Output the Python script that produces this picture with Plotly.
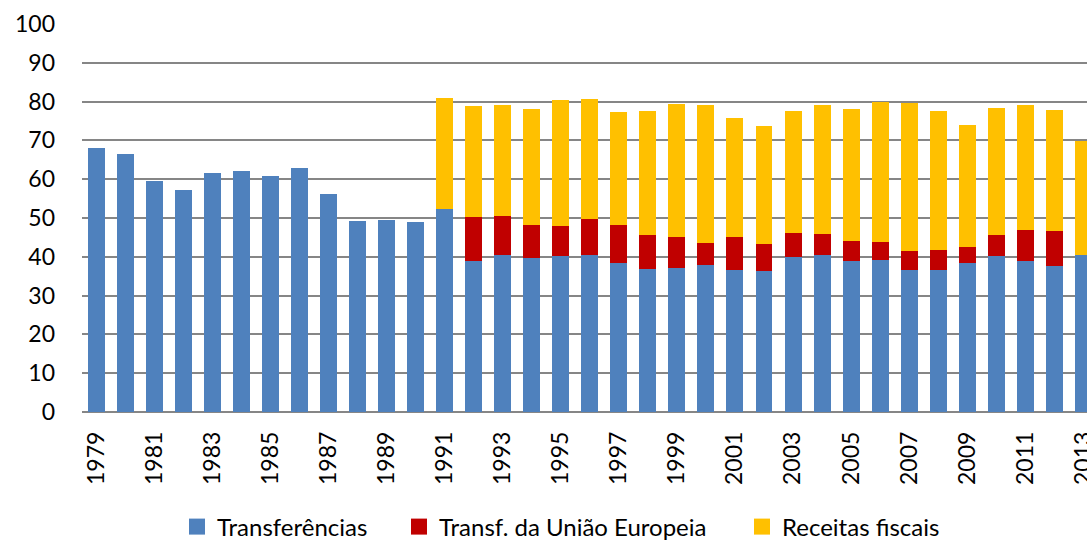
import plotly.graph_objects as go

# Receitas por ano (% do total)
years = list(range(1979, 2014))

transferencias = [
    68.0, 66.4, 59.6, 57.2, 61.7, 62.2, 60.7, 63.0, 56.3, 49.2, 49.6, 49.0,
    52.3, 38.9, 40.4, 39.7, 40.3, 40.4, 38.4, 36.8, 37.0, 37.9, 36.7, 36.3,
    39.9, 40.4, 38.9, 39.1, 36.6, 36.7, 38.4, 40.3, 38.9, 37.6, 40.4,
]
transf_ue = [
    0, 0, 0, 0, 0, 0, 0, 0, 0, 0, 0, 0,
    0.0, 11.4, 10.2, 8.5, 7.6, 9.3, 9.8, 8.7, 8.2, 5.6, 8.5, 7.1,
    6.3, 5.5, 5.3, 4.8, 4.8, 5.0, 4.2, 5.4, 8.1, 9.1, 0.0,
]
receitas_fiscais = [
    0, 0, 0, 0, 0, 0, 0, 0, 0, 0, 0, 0,
    28.7, 28.6, 28.5, 29.8, 32.5, 31.1, 29.0, 32.2, 34.3, 35.5, 30.6, 30.3,
    31.4, 33.3, 33.8, 36.0, 38.3, 35.9, 31.3, 32.6, 32.1, 31.1, 29.5,
]

series_names = ["Transferências", "Transf. da União Europeia", "Receitas fiscais"]
series_colors = ["#4F81BD", "#C00000", "#FFC000"]
series_values = [transferencias, transf_ue, receitas_fiscais]

W, H = 1087, 542
FONT = "Lato, 'Open Sans', sans-serif"

fig = go.Figure()

for name, color, vals in zip(series_names, series_colors, series_values):
    fig.add_trace(go.Bar(
        x=years, y=vals, name=name,
        marker=dict(color=color, line=dict(width=0)),
        showlegend=False,
    ))

# legend entries with larger square swatches, one legend per entry
legend_centers = [197, 419, 762]
for i, (name, color) in enumerate(zip(series_names, series_colors)):
    key = "legend" if i == 0 else f"legend{i + 1}"
    fig.add_trace(go.Scatter(
        x=[None], y=[None], mode="markers", name=name,
        marker=dict(symbol="square", size=16, color=color),
        legend=key, showlegend=True,
    ))
    fig.update_layout({key: dict(
        x=(legend_centers[i] - 20) / W, xref="container", xanchor="left",
        y=1 - 527 / H, yref="container", yanchor="middle",
        orientation="h", bgcolor="rgba(0,0,0,0)",
        font=dict(family=FONT, size=24, color="#000000"),
        itemclick=False, itemdoubleclick=False,
    )})

fig.update_layout(
    width=W, height=H,
    margin=dict(l=82, r=0, t=24, b=130, pad=0, autoexpand=False),
    paper_bgcolor="white", plot_bgcolor="white",
    barmode="stack", bargap=0.415,
    font=dict(family=FONT, size=23, color="#000000"),
    xaxis=dict(
        range=[1978.5, 2013.13], tick0=1979, dtick=2,
        tickangle=-90, tickfont=dict(family=FONT, size=23, color="#000000"),
        showgrid=False, zeroline=False, showline=False, automargin=False,
        ticks="", ticklabelstandoff=14, ticklabeloverflow="allow",
    ),
    yaxis=dict(
        range=[0, 100], dtick=10, automargin=False,
        tickfont=dict(family=FONT, size=23, color="#000000"),
        showgrid=True, gridcolor="#868686", gridwidth=1.8,
        zeroline=True, zerolinecolor="#868686", zerolinewidth=2,
        showline=False, ticks="", ticklabelstandoff=26,
    ),
)

fig.write_html("out.html")
